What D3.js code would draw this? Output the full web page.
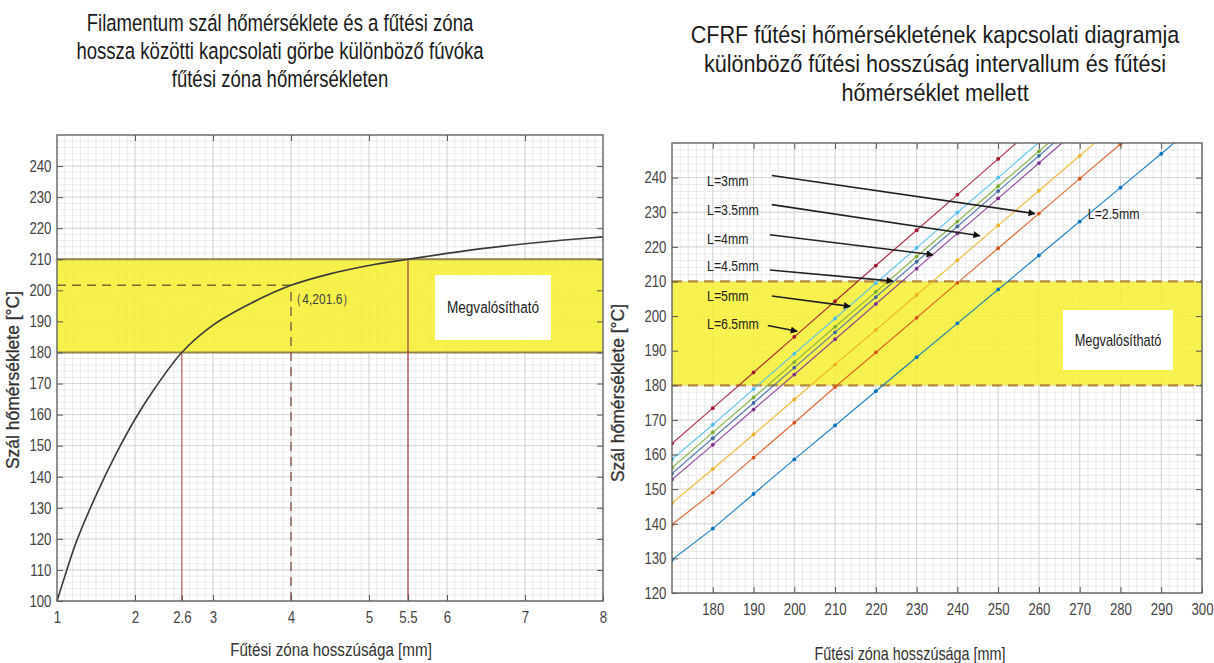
<!DOCTYPE html>
<html>
<head>
<meta charset="utf-8">
<script src="https://cdn.jsdelivr.net/npm/d3@7"></script>
<style>
  html, body { margin: 0; padding: 0; background: #fff; }
  svg { display: block; }
  text { font-family: 'Liberation Sans', Arial, sans-serif; }
</style>
</head>
<body>
<svg id="chart" width="1214" height="663"></svg>
<script>
// ---- Left chart: filament temperature vs. heating zone length ----
const zoneLength = [1, 1.12, 1.25, 1.5, 1.75, 2, 2.25, 2.6, 3, 3.5, 4, 4.5, 5, 5.5, 6, 6.5, 7, 7.5, 8];
const filamentTemp = [100, 109.5, 119.2, 134, 147, 158.5, 168.3, 180, 188.8, 196, 201.6, 205.3, 208, 210, 211.9, 213.6, 215, 216.2, 217.2];
const leftXTicks = [1, 2, 2.6, 3, 4, 5, 5.5, 6, 7, 8];
const leftYTicks = [100, 110, 120, 130, 140, 150, 160, 170, 180, 190, 200, 210, 220, 230, 240];
const feasibleBand = [180, 210];
const markedPoint = { x: 4, y: 201.6, label: "（4,201.6）" };
const lowLength = 2.6, highLength = 5.5;

// ---- Right chart: filament temperature vs. heater temperature ----
const heaterTemp = [170, 180, 190, 200, 210, 220, 230, 240, 250, 260, 270, 280, 290, 300];
const tempL25 = [129.6, 138.6, 148.6, 158.6, 168.4, 178.3, 188.1, 197.9, 207.7, 217.5, 227.3, 237.1, 246.9, 256.7];
const tempL3  = [139.8, 149.0, 159.1, 169.2, 179.5, 189.5, 199.5, 209.6, 219.6, 229.6, 239.7, 249.7, 259.8, 269.8];
const tempL35 = [146.0, 155.8, 165.8, 175.9, 186.0, 196.0, 206.1, 216.1, 226.2, 236.2, 246.3, 256.3, 266.4, 276.4];
const tempL4  = [152.8, 162.8, 173.0, 183.1, 193.3, 203.5, 213.7, 223.9, 234.0, 244.2, 254.4, 264.6, 274.8, 285.0];
const tempL45 = [154.5, 164.7, 174.9, 185.1, 195.3, 205.5, 215.7, 225.9, 236.1, 246.3, 256.5, 266.7, 276.9, 287.1];
const tempL5  = [156.2, 166.4, 176.5, 186.7, 196.9, 207.0, 217.2, 227.3, 237.5, 247.6, 257.8, 268.0, 278.1, 288.3];
const tempL55 = [158.6, 168.6, 178.9, 189.1, 199.3, 209.5, 219.7, 229.9, 240.0, 250.2, 260.4, 270.6, 280.8, 291.0];
const tempL65 = [163.2, 173.4, 183.7, 194.0, 204.3, 214.6, 224.8, 235.1, 245.4, 255.7, 266.0, 276.2, 286.5, 296.8];
const rightSeries = [tempL25, tempL3, tempL35, tempL4, tempL45, tempL5, tempL55, tempL65];
const seriesColors = ["#0072BD", "#D95319", "#EDB120", "#7E2F8E", "#3d6aa0", "#77AC30", "#4DBEEE", "#A2142F"];
const rightXTicks = [180, 190, 200, 210, 220, 230, 240, 250, 260, 270, 280, 290, 300];
const rightYTicks = [120, 130, 140, 150, 160, 170, 180, 190, 200, 210, 220, 230, 240];

// Arrow call-outs: label anchor, arrow start and arrow tip, in data units
const callouts = [
  { text: "L=3mm",   at: [178.6, 239.0], from: [194.5, 240.6], to: [259.0, 229.6] },
  { text: "L=3.5mm", at: [178.6, 230.6], from: [194.5, 232.2], to: [245.5, 223.2] },
  { text: "L=4mm",   at: [178.6, 222.4], from: [194.0, 223.5], to: [234.0, 217.7] },
  { text: "L=4.5mm", at: [178.6, 214.4], from: [194.0, 213.3], to: [224.2, 210.1] },
  { text: "L=5mm",   at: [178.6, 205.8], from: [194.5, 205.8], to: [213.7, 202.8] },
  { text: "L=6.5mm", at: [178.6, 197.6], from: [193.5, 197.3], to: [200.7, 195.6] }
];

const svg = d3.select("#chart");
const defs = svg.append("defs");
defs.append("marker")
  .attr("id", "arrowhead").attr("viewBox", "0 0 10 10")
  .attr("refX", 9).attr("refY", 5)
  .attr("markerWidth", 9).attr("markerHeight", 7)
  .attr("markerUnits", "userSpaceOnUse")
  .attr("orient", "auto")
  .append("path").attr("d", "M0,0 L10,5 L0,10 z").attr("fill", "#111");

// condensed text: the glyphs are squeezed horizontally around the anchor point
function ntext(parent, x, y, str, size, sx, anchor = "start", fill = "#222") {
  return parent.append("g").attr("transform", `translate(${x},${y}) scale(${sx},1)`)
    .append("text").attr("x", 0).attr("y", 0)
    .attr("font-size", size).attr("fill", fill).attr("text-anchor", anchor).text(str);
}

function grid(g, x, y, xMinor, yMinor, xMajor, yMajor) {
  const [x0, x1] = x.range(), [y0, y1] = y.range();
  g.append("g").selectAll("line").data(xMinor).join("line")
    .attr("x1", d => x(d)).attr("x2", d => x(d)).attr("y1", y0).attr("y2", y1)
    .attr("stroke", "#e2e2e2").attr("stroke-width", 0.7);
  g.append("g").selectAll("line").data(yMinor).join("line")
    .attr("y1", d => y(d)).attr("y2", d => y(d)).attr("x1", x0).attr("x2", x1)
    .attr("stroke", "#e2e2e2").attr("stroke-width", 0.7);
  g.append("g").selectAll("line").data(xMajor).join("line")
    .attr("x1", d => x(d)).attr("x2", d => x(d)).attr("y1", y0).attr("y2", y1)
    .attr("stroke", "#d0d0d0").attr("stroke-width", 0.8);
  g.append("g").selectAll("line").data(yMajor).join("line")
    .attr("y1", d => y(d)).attr("y2", d => y(d)).attr("x1", x0).attr("x2", x1)
    .attr("stroke", "#d0d0d0").attr("stroke-width", 0.8);
}

function frame(g, x, y, xTicks, yTicks, xTopTicks, yRightTicks) {
  const [x0, x1] = x.range(), [y0, y1] = y.range();
  const bottom = g.append("g").attr("transform", `translate(0,${y0})`)
    .call(d3.axisBottom(x).tickValues(xTicks).tickSize(-6).tickPadding(10).tickFormat(d => d3.format("~g")(d)));
  const left = g.append("g").attr("transform", `translate(${x0},0)`)
    .call(d3.axisLeft(y).tickValues(yTicks).tickSize(-6).tickPadding(7).tickFormat(d3.format("d")));
  const top = g.append("g").attr("transform", `translate(0,${y1})`)
    .call(d3.axisTop(x).tickValues(xTopTicks).tickSize(-6).tickFormat(""));
  const right = g.append("g").attr("transform", `translate(${x1},0)`)
    .call(d3.axisRight(y).tickValues(yRightTicks).tickSize(-6).tickFormat(""));
  [bottom, left, top, right].forEach(a => {
    a.select(".domain").remove();
    a.selectAll(".tick line").attr("stroke", "#555").attr("stroke-width", 1);
    a.selectAll("text").attr("font-size", 16.5).attr("fill", "#444")
      .attr("font-family", "'Liberation Sans', Arial, sans-serif")
      .attr("transform", "scale(0.8,1)");
  });
  g.append("rect").attr("x", x0).attr("y", y1).attr("width", x1 - x0).attr("height", y0 - y1)
    .attr("fill", "none").attr("stroke", "#666").attr("stroke-width", 1.4);
}

// ================= LEFT =================
{
  const x = d3.scaleLinear().domain([1, 8]).range([57, 603]);
  const y = d3.scaleLinear().domain([100, 250]).range([601, 135]);
  const g = svg.append("g");
  grid(g, x, y, d3.range(1, 8.001, 0.1), d3.range(100, 250.001, 2), [2, 3, 4, 5, 6, 7], leftYTicks);

  // feasible band
  g.append("rect").attr("x", x(1)).attr("width", x(8) - x(1))
    .attr("y", y(feasibleBand[1])).attr("height", y(feasibleBand[0]) - y(feasibleBand[1]))
    .attr("fill", "#f5ef2c").attr("opacity", 0.85);
  feasibleBand.forEach(v => g.append("line")
    .attr("x1", x(1)).attr("x2", x(8)).attr("y1", y(v)).attr("y2", y(v))
    .attr("stroke", "#94834a").attr("stroke-width", 2));

  // boundary lengths
  g.append("line").attr("x1", x(lowLength)).attr("x2", x(lowLength))
    .attr("y1", y(100)).attr("y2", y(feasibleBand[0]))
    .attr("stroke", "#c56a6a").attr("stroke-width", 1.3);
  g.append("line").attr("x1", x(highLength)).attr("x2", x(highLength))
    .attr("y1", y(100)).attr("y2", y(feasibleBand[1]))
    .attr("stroke", "#a5484a").attr("stroke-width", 1.3);

  // marked point guides
  g.append("line").attr("x1", x(markedPoint.x)).attr("x2", x(markedPoint.x))
    .attr("y1", y(100)).attr("y2", y(markedPoint.y))
    .attr("stroke", "#8a5a4a").attr("stroke-width", 1.4).attr("stroke-dasharray", "9,6");
  g.append("line").attr("x1", x(1)).attr("x2", x(markedPoint.x))
    .attr("y1", y(markedPoint.y)).attr("y2", y(markedPoint.y))
    .attr("stroke", "#7a6a32").attr("stroke-width", 1.5).attr("stroke-dasharray", "9,6");

  // curve
  g.append("path")
    .datum(zoneLength.map((d, i) => [d, filamentTemp[i]]))
    .attr("d", d3.line().x(d => x(d[0])).y(d => y(d[1])).curve(d3.curveCatmullRom.alpha(0.5)))
    .attr("fill", "none").attr("stroke", "#3a3a3a").attr("stroke-width", 1.6);

  ntext(g, x(markedPoint.x) - 1, y(markedPoint.y) + 19, markedPoint.label, 15, 0.8, "start", "#444");

  // label box
  g.append("rect").attr("x", 435).attr("y", 275).attr("width", 116).attr("height", 65).attr("fill", "#fff");
  ntext(g, 493, 313, "Megvalósítható", 17, 0.8, "middle", "#222");

  frame(g, x, y, leftXTicks, leftYTicks, [2, 3, 4, 5, 6, 7], leftYTicks.slice(1));

  // titles
  const title = ["Filamentum szál hőmérséklete és a fűtési zóna",
                 "hossza közötti kapcsolati görbe különböző fúvóka",
                 "fűtési zóna hőmérsékleten"];
  title.forEach((t, i) => ntext(svg, 280, 31 + i * 28, t, 23.5, 0.79, "middle", "#1a1a1a"));
  ntext(svg, 331, 656, "Fűtési zóna hosszúsága [mm]", 19, 0.8, "middle", "#333");
  svg.append("text").attr("font-size", 17.5).attr("fill", "#333")
    .attr("stroke", "#333").attr("stroke-width", 0.3)
    .attr("text-anchor", "middle").attr("transform", "translate(19,380) rotate(-90)")
    .text("Szál hőmérséklete [°C]");
}

// ================= RIGHT =================
{
  const x = d3.scaleLinear().domain([170, 300]).range([672, 1202]);
  const y = d3.scaleLinear().domain([120, 250]).range([593, 143]);
  const g = svg.append("g");
  grid(g, x, y, d3.range(170, 300.001, 2), d3.range(120, 250.001, 2), rightXTicks, rightYTicks);

  g.append("rect").attr("x", x(170)).attr("width", x(300) - x(170))
    .attr("y", y(feasibleBand[1])).attr("height", y(feasibleBand[0]) - y(feasibleBand[1]))
    .attr("fill", "#f7f032").attr("opacity", 0.85);
  feasibleBand.forEach(v => g.append("line")
    .attr("x1", x(170)).attr("x2", x(300)).attr("y1", y(v)).attr("y2", y(v))
    .attr("stroke", "#b58a3e").attr("stroke-width", 2.2).attr("stroke-dasharray", "10,6"));

  defs.append("clipPath").attr("id", "rightClip").append("rect")
    .attr("x", x(170)).attr("y", y(250)).attr("width", x(300) - x(170)).attr("height", y(120) - y(250));
  const plot = g.append("g").attr("clip-path", "url(#rightClip)");
  const line = d3.line().x(d => x(d[0])).y(d => y(d[1]));
  rightSeries.forEach((vals, k) => {
    const pts = heaterTemp.map((t, i) => [t, vals[i]]);
    plot.append("path").datum(pts).attr("d", line)
      .attr("fill", "none").attr("stroke", seriesColors[k]).attr("stroke-width", 1.2).attr("opacity", 0.85);
    plot.append("g").selectAll("circle").data(pts).join("circle")
      .attr("cx", d => x(d[0])).attr("cy", d => y(d[1])).attr("r", 1.9)
      .attr("fill", seriesColors[k]);
  });

  // label box
  g.append("rect").attr("x", 1063).attr("y", 310).attr("width", 110).attr("height", 60).attr("fill", "#fff");
  ntext(g, 1118, 346, "Megvalósítható", 16, 0.8, "middle", "#222");

  // call-outs
  callouts.forEach(c => {
    ntext(g, x(c.at[0]), y(c.at[1]) + 5, c.text, 15, 0.82, "start", "#222");
    g.append("line").attr("x1", x(c.from[0])).attr("y1", y(c.from[1]))
      .attr("x2", x(c.to[0])).attr("y2", y(c.to[1]))
      .attr("stroke", "#222").attr("stroke-width", 1.6).attr("marker-end", "url(#arrowhead)");
  });
  ntext(g, x(272), y(229.5) + 5, "L=2.5mm", 15, 0.82, "start", "#222");

  frame(g, x, y, rightXTicks, rightYTicks, rightXTicks.slice(0, -1), rightYTicks.slice(1));

  const title = ["CFRF fűtési hőmérsékletének kapcsolati diagramja",
                 "különböző fűtési hosszúság intervallum és fűtési",
                 "hőmérséklet mellett"];
  title.forEach((t, i) => ntext(svg, 935, 43 + i * 29, t, 24, 0.9, "middle", "#1a1a1a"));
  ntext(svg, 910, 660, "Fűtési zóna hosszúsága [mm]", 18, 0.8, "middle", "#333");
  svg.append("text").attr("font-size", 17.5).attr("fill", "#333")
    .attr("stroke", "#333").attr("stroke-width", 0.3)
    .attr("text-anchor", "middle").attr("transform", "translate(624,393) rotate(-90)")
    .text("Szál hőmérséklete [°C]");
}
</script>
</body>
</html>
